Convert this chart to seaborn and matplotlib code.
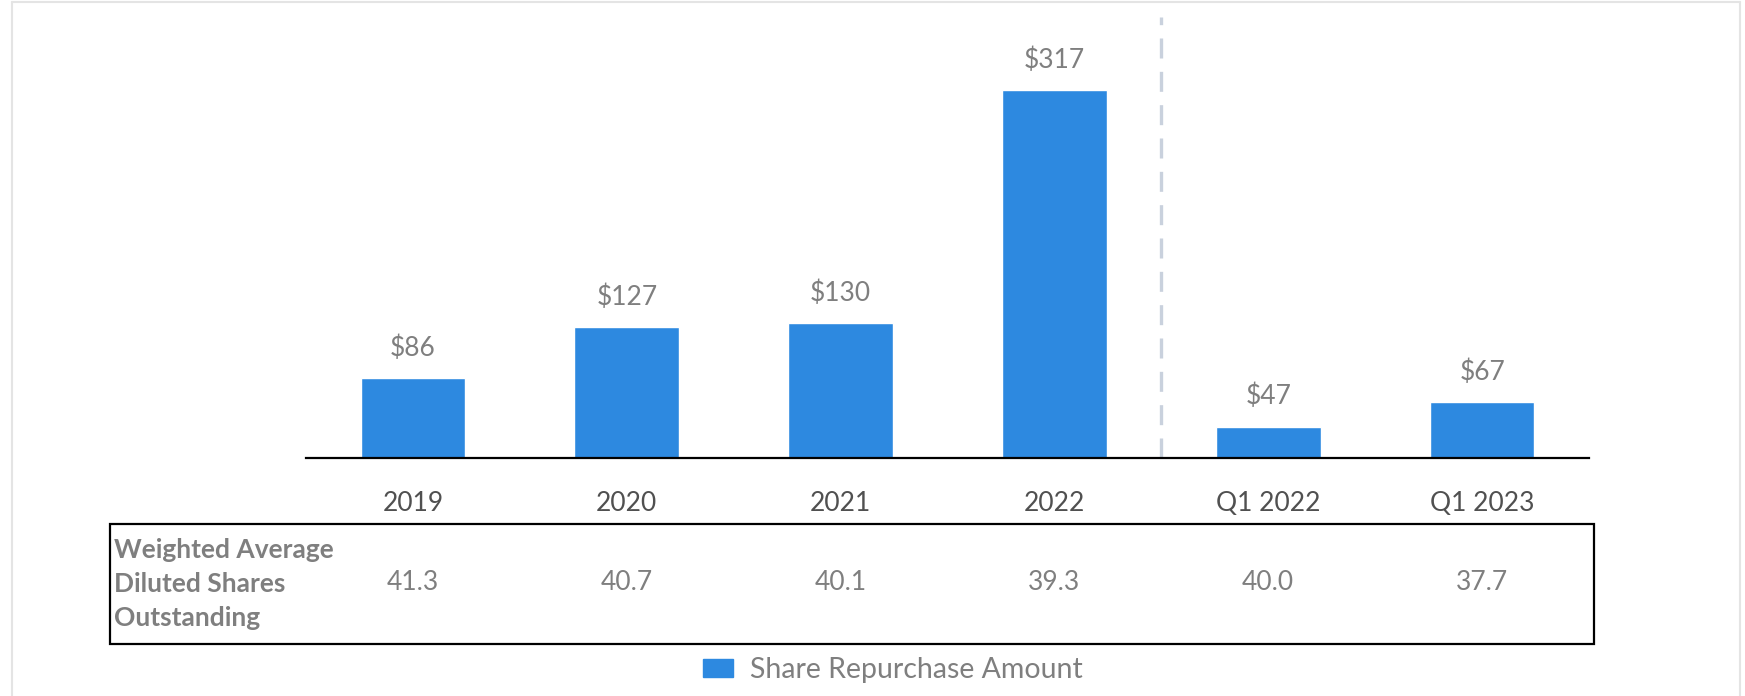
import numpy as np
import pandas as pd
import seaborn as sns
import matplotlib.pyplot as plt
from matplotlib.lines import Line2D
from matplotlib.patches import Rectangle, Patch
from matplotlib.transforms import blended_transform_factory

categories = ["2019", "2020", "2021", "2022", "Q1 2022", "Q1 2023"]
repurchase = [86, 127, 130, 317, 47, 67]
shares = [41.3, 40.7, 40.1, 39.3, 40.0, 37.7]
row_label = "Weighted Average\nDiluted Shares\nOutstanding"
legend_label = "Share Repurchase Amount"

BLUE = "#2d89e0"
GRAY = "#7f7f7f"
DARK = "#505050"

sns.set_style("white")
plt.rcParams['font.family'] = ['Lato', 'DejaVu Sans']

W, H = 1745, 696
fig = plt.figure(figsize=(W / 100, H / 100), dpi=100)
ax = fig.add_axes([306 / W, 1 - 458 / H, 1283 / W, 441 / H])

df = pd.DataFrame({"period": categories, "amount": repurchase})
sns.barplot(data=df, x="period", y="amount", color=BLUE, saturation=1,
            width=0.49, ax=ax)

ax.set_xlim(-0.5, 5.5)
ax.set_ylim(21.8, 375.5)
ax.set_xlabel("")
ax.set_ylabel("")
ax.set_yticks([])
for s in ["left", "right", "top"]:
    ax.spines[s].set_visible(False)
ax.spines["bottom"].set_color("black")
ax.spines["bottom"].set_linewidth(1.6)
ax.tick_params(axis="x", length=0, pad=24, labelsize=19, labelcolor=DARK)

# value labels above bars
for i, v in enumerate(repurchase):
    ax.annotate(f"${v}", xy=(i, v), xytext=(0, 21.5), textcoords="offset points",
                ha="center", va="center", fontsize=19, color=GRAY)

# separator between annual and quarterly figures
ax.axvline(3.5, color="#c9d1dd", lw=2.4, linestyle=(0, (6.0, 4.0)))

# table of diluted shares
fig.add_artist(Rectangle((110 / W, 1 - 644 / H), 1484 / W, 120 / H,
                         transform=fig.transFigure, facecolor="none",
                         edgecolor="black", lw=1.6))
fig.text(114 / W, 1 - 584 / H, row_label, ha="left", va="center",
         fontsize=19, fontweight="bold", color=GRAY, linespacing=1.52)
tr = blended_transform_factory(ax.transData, fig.transFigure)
for i, s in enumerate(shares):
    ax.text(i, 1 - 583 / H, f"{s:.1f}", transform=tr, ha="center", va="center",
            fontsize=19, color=GRAY, clip_on=False)

# legend
fig.legend(handles=[Patch(color=BLUE, label=legend_label)], loc="center",
           bbox_to_anchor=(893 / W, 1 - 670 / H), frameon=False, fontsize=20.5,
           labelcolor=GRAY, handlelength=1.05, handleheight=0.6,
           handletextpad=0.6)

# light outer frame
fc = "#e4e4e4"
fig.add_artist(Line2D([12 / W, 12 / W], [0, 1 - 2 / H], color=fc, lw=1.5))
fig.add_artist(Line2D([12 / W, 1740 / W], [1 - 2 / H, 1 - 2 / H], color=fc, lw=1.5))
fig.add_artist(Line2D([1740 / W, 1740 / W], [0, 1 - 2 / H], color=fc, lw=1.5))

fig.savefig("out.png", dpi=100)
